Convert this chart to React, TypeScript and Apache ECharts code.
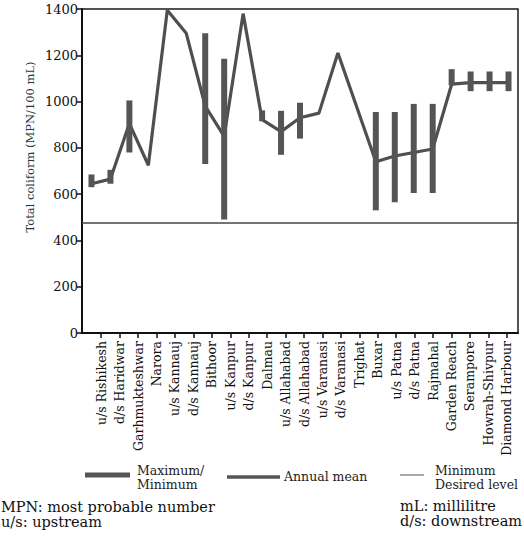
import React, { useEffect, useRef } from "react";
import * as echarts from "echarts";

const categories = [
  "u/s Rishikesh", "d/s Haridwar", "Garhmukteshwar", "Narora", "u/s Kannauj",
  "d/s Kannauj", "Bithoor", "u/s Kanpur", "d/s Kanpur", "Dalmau",
  "u/s Allahabad", "d/s Allahabad", "u/s Varanasi", "d/s Varanasi", "Trighat",
  "Buxar", "u/s Patna", "d/s Patna", "Rajmahal", "Garden Reach",
  "Serampore", "Howrah-Shivpur", "Diamond Harbour",
];

const annualMean: (number | null)[] = [
  645, 665, 905, 725, 1395,
  1295, 980, 850, 1380, 922,
  870, 930, 950, 1210, null,
  740, 765, 780, 795, 1075,
  1082, 1082, 1082,
];

const maxVals: (number | null)[] = [
  685, 705, 1005, null, null,
  null, 1295, 1185, null, 962,
  960, 995, null, null, null,
  955, 955, 990, 990, 1140,
  1130, 1130, 1130,
];

const minVals: (number | null)[] = [
  630, 645, 780, null, null,
  null, 730, 490, null, 915,
  770, 840, null, null, null,
  530, 565, 605, 605, 1070,
  1045, 1045, 1045,
];

const desiredLevel = 475;
const yTicks = { min: 0, max: 1400, interval: 200 };

const FONT = "DejaVu Serif";
const DARK = "#4f4f4f";

export default function App() {
  const ref = useRef<HTMLDivElement>(null);

  useEffect(() => {
    document.body.style.margin = "0";
    const chart = echarts.init(ref.current!, null, { renderer: "svg" });

    const rangeData = categories
      .map((_, i) => [i, maxVals[i], minVals[i]])
      .filter((d) => d[1] != null && d[2] != null);

    const option: any = {
      animation: false,
      backgroundColor: "#ffffff",
      grid: [
        { left: 82, right: 6, top: 9, bottom: 203, show: true, borderColor: "#1a1a1a", borderWidth: 1.5 },
        { left: 92, right: 8, top: 9, bottom: 203, show: false },
      ],
      xAxis: [
        {
          type: "category",
          gridIndex: 0,
          data: categories,
          boundaryGap: true,
          axisLine: { show: true, lineStyle: { color: "#111", width: 2 } },
          axisTick: { show: false },
          axisLabel: { show: false },
          splitLine: { show: false },
        },
        {
          type: "category",
          gridIndex: 1,
          data: categories,
          boundaryGap: true,
          axisLine: { show: false },
          axisTick: { show: true, alignWithLabel: true, length: 5, lineStyle: { color: "#111", width: 1.5 } },
          axisLabel: {
            rotate: 90,
            interval: 0,
            margin: 8,
            fontFamily: FONT,
            fontSize: 12.5,
            color: "#111",
          },
          splitLine: { show: false },
        },
      ],
      yAxis: [
        {
          type: "value",
          gridIndex: 0,
          min: yTicks.min,
          max: yTicks.max,
          interval: yTicks.interval,
          axisLine: { show: true, lineStyle: { color: "#111", width: 2 } },
          axisTick: { show: true, length: 5, lineStyle: { color: "#111", width: 1.5 } },
          axisLabel: {
            fontFamily: FONT,
            fontSize: 13,
            color: "#111",
            margin: 4,
            formatter: (v: number) => String(v),
          },
          splitLine: { show: false },
        },
        { type: "value", gridIndex: 1, show: false },
      ],
      series: [
        {
          type: "custom",
          xAxisIndex: 0,
          yAxisIndex: 0,
          data: rangeData,
          encode: { x: 0, y: [1, 2] },
          renderItem: (params: any, api: any) => {
            const i = api.value(0);
            const hi = api.coord([i, api.value(1)]);
            const lo = api.coord([i, api.value(2)]);
            return {
              type: "rect",
              shape: { x: hi[0] - 3, y: hi[1], width: 6, height: lo[1] - hi[1] },
              style: { fill: "#555555" },
            };
          },
          z: 3,
        },
        {
          type: "line",
          xAxisIndex: 0,
          yAxisIndex: 0,
          data: annualMean,
          connectNulls: true,
          showSymbol: false,
          symbol: "none",
          lineStyle: { color: DARK, width: 3.2 },
          z: 2,
          markLine: {
            silent: true,
            symbol: "none",
            label: { show: false },
            lineStyle: { color: "#444", width: 1.5, type: "solid" },
            data: [{ yAxis: desiredLevel }],
          },
        },
      ],
      graphic: [
        {
          type: "text",
          x: 30,
          y: 147,
          rotation: Math.PI / 2,
          style: {
            text: "Total coliform (MPN/100 mL)",
            fontFamily: FONT,
            fontSize: 11.5,
            fill: "#333",
            textAlign: "center",
            textVerticalAlign: "middle",
          },
        },
        { type: "line", shape: { x1: 85, y1: 475, x2: 130, y2: 475 }, style: { stroke: "#555", lineWidth: 5 } },
        { type: "text", x: 137, y: 470, style: { text: "Maximum/", fontFamily: FONT, fontSize: 12.5, fill: "#222", textVerticalAlign: "middle" } },
        { type: "text", x: 137, y: 484, style: { text: "Minimum", fontFamily: FONT, fontSize: 12.5, fill: "#222", textVerticalAlign: "middle" } },
        { type: "line", shape: { x1: 227, y1: 477, x2: 280, y2: 477 }, style: { stroke: "#555", lineWidth: 3.5 } },
        { type: "text", x: 284, y: 476, style: { text: "Annual mean", fontFamily: FONT, fontSize: 12.5, fill: "#222", textVerticalAlign: "middle" } },
        { type: "line", shape: { x1: 400, y1: 475, x2: 424, y2: 475 }, style: { stroke: "#aaa", lineWidth: 2 } },
        { type: "text", x: 435, y: 470, style: { text: "Minimum", fontFamily: FONT, fontSize: 12.5, fill: "#222", textVerticalAlign: "middle" } },
        { type: "text", x: 435, y: 484, style: { text: "Desired level", fontFamily: FONT, fontSize: 12.5, fill: "#222", textVerticalAlign: "middle" } },
        { type: "text", x: 1, y: 507, style: { text: "MPN: most probable number", fontFamily: FONT, fontSize: 14.5, fill: "#111", textVerticalAlign: "middle" } },
        { type: "text", x: 1, y: 522, style: { text: "u/s: upstream", fontFamily: FONT, fontSize: 14.5, fill: "#111", textVerticalAlign: "middle" } },
        { type: "text", x: 400, y: 506, style: { text: "mL: millilitre", fontFamily: FONT, fontSize: 14.5, fill: "#111", textVerticalAlign: "middle" } },
        { type: "text", x: 400, y: 521, style: { text: "d/s: downstream", fontFamily: FONT, fontSize: 14.5, fill: "#111", textVerticalAlign: "middle" } },
      ],
    };

    chart.setOption(option);
    return () => chart.dispose();
  }, []);

  return (
    <div
      ref={ref}
      style={{ position: "fixed", left: 0, top: 0, width: 524, height: 536 }}
    />
  );
}
